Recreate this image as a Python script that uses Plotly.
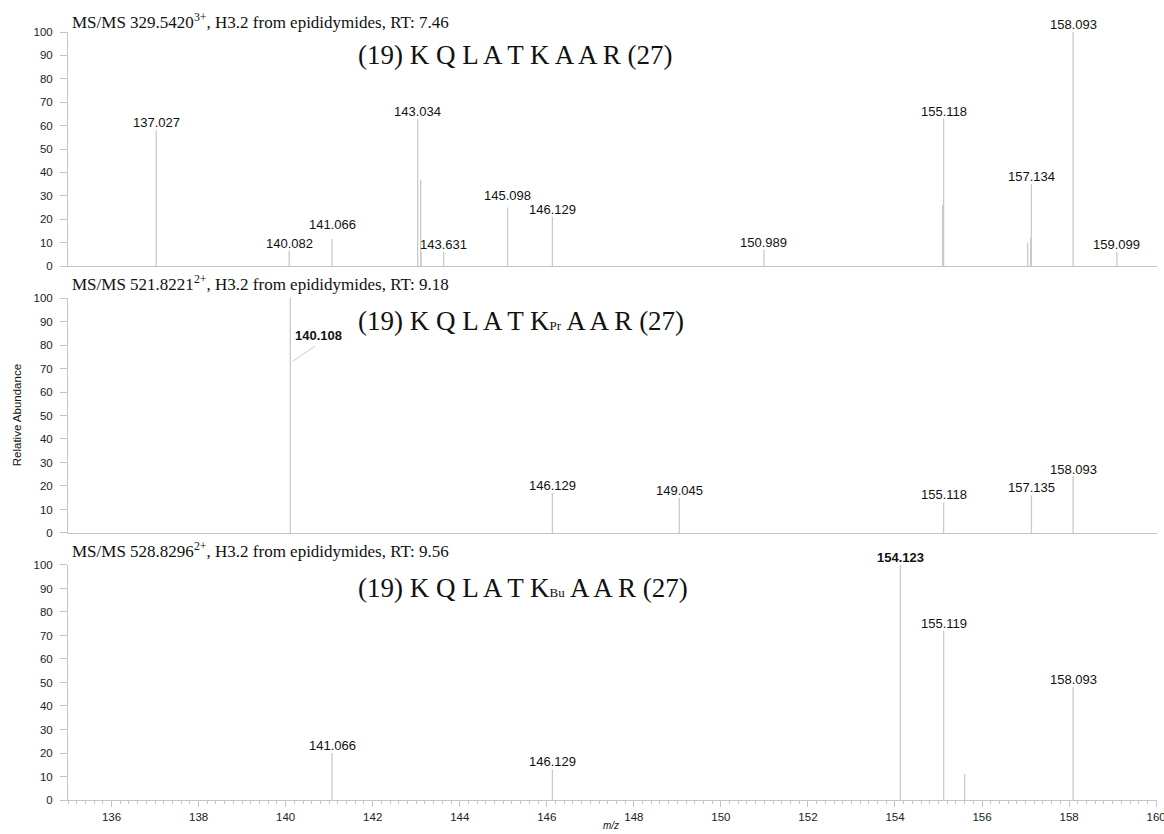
import plotly.graph_objects as go

# ---------------- data ----------------
x_range = [135, 160.02]
x_tick_start = 136
x_tick_step = 2

titles = [
    "MS/MS 329.5420<sup>3+</sup>, H3.2 from epididymides, RT: 7.46",
    "MS/MS 521.8221<sup>2+</sup>, H3.2 from epididymides, RT: 9.18",
    "MS/MS 528.8296<sup>2+</sup>, H3.2 from epididymides, RT: 9.56",
]
mods = ["", "Pr", "Bu"]

p1_mz = [137.027, 140.082, 141.066, 143.034, 143.103, 143.112, 143.631, 145.098,
         146.129, 150.989, 155.095, 155.118, 157.048, 157.117, 157.134, 158.093, 159.099]
p1_int = [58, 6.5, 11.5, 63, 37, 6, 6, 25, 21, 7, 26, 63, 10, 12, 35, 100, 6]
p1_lab = ["137.027", "140.082", "141.066", "143.034", "", "", "143.631", "145.098",
          "146.129", "150.989", "", "155.118", "", "", "157.134", "158.093", "159.099"]

p2_mz = [140.108, 146.129, 149.045, 155.118, 157.135, 158.093]
p2_int = [100, 17, 15, 13, 16, 24]
p2_lab = ["140.108", "146.129", "149.045", "155.118", "157.135", "158.093"]

p3_mz = [141.066, 146.129, 154.123, 155.119, 155.6, 158.093]
p3_int = [20, 13, 100, 72, 11, 48]
p3_lab = ["141.066", "146.129", "154.123", "155.119", "", "158.093"]

panels = [(p1_mz, p1_int, p1_lab), (p2_mz, p2_int, p2_lab), (p3_mz, p3_int, p3_lab)]

# ---------------- styles ----------------
SANS = "Liberation Sans, Arial, sans-serif"
SERIF = "Liberation Serif, Times New Roman, serif"
PEAK = "#cacaca"
AXIS = "#c4c4c4"
TXT = "#111111"

domains = [[0.6953, 1.0], [0.3477, 0.6536], [0.0, 0.306]]
title_shift = [11, 15, 15]
bold_labels = {(2, "154.123")}
extra_shift = {(0, "141.066"): 7, (0, "145.098"): 5}
special_label = (1, "140.108")

fig = go.Figure()
annotations = []
shapes = []

for i, (mz, inten, lab) in enumerate(panels):
    n = i + 1
    xs, ys = [], []
    for m, h in zip(mz, inten):
        xs += [m, m, None]
        ys += [0, h, None]
    xa = "x" if n == 1 else f"x{n}"
    ya = "y" if n == 1 else f"y{n}"
    fig.add_trace(go.Scatter(x=xs, y=ys, mode="lines", xaxis=xa, yaxis=ya,
                             line=dict(color=PEAK, width=1.3), hoverinfo="skip",
                             showlegend=False, cliponaxis=False))
    for m, h, t in zip(mz, inten, lab):
        if not t:
            continue
        if (i, t) == special_label:
            annotations.append(dict(x=m, y=84, xref=xa, yref=ya, text=f"<b>{t}</b>",
                                    showarrow=False, xanchor="left", yanchor="middle",
                                    xshift=3, font=dict(family=SANS, size=13, color=TXT)))
            shapes.append(dict(type="line", xref=xa, yref=ya, x0=m + 0.05, y0=73,
                               x1=m + 0.57, y1=79.5, line=dict(color=PEAK, width=1)))
            continue
        txt = f"<b>{t}</b>" if (i, t) in bold_labels else t
        annotations.append(dict(x=m, y=h, xref=xa, yref=ya, text=txt, showarrow=False,
                                xanchor="center", yanchor="bottom",
                                yshift=-2 + extra_shift.get((i, t), 0),
                                font=dict(family=SANS, size=13, color=TXT)))
    # panel title
    annotations.append(dict(x=0.002, y=1, xref="paper", yref=f"{ya} domain",
                            text=titles[i], showarrow=False, xanchor="left",
                            yanchor="middle", yshift=title_shift[i],
                            font=dict(family=SERIF, size=17, color=TXT)))
    # peptide sequence
    mod = f'<span style="font-size:13px">{mods[i]}</span>' if mods[i] else ""
    pep = f"(19) K Q L A T K{mod} A A R (27)"
    annotations.append(dict(x=0.2645, y=1, xref=f"{xa} domain", yref=f"{ya} domain",
                            text=pep, showarrow=False, xanchor="left", yanchor="middle",
                            yshift=-23, font=dict(family=SERIF, size=27, color=TXT)))

# axis titles
annotations.append(dict(x=-0.0468, y=0.501, xref="paper", yref="paper",
                        text="Relative Abundance", textangle=-90, showarrow=False,
                        xanchor="center", yanchor="middle",
                        font=dict(family=SANS, size=11.5, color=TXT)))
annotations.append(dict(x=0.4986, y=-0.024, xref="paper", yref="paper",
                        text="<i>m/z</i>", showarrow=False, xanchor="center",
                        yanchor="top", font=dict(family=SANS, size=10, color=TXT)))

yax = dict(range=[0, 100], dtick=10, tick0=0, showline=True, linecolor=AXIS,
           linewidth=1, ticks="outside", ticklen=7, tickcolor=AXIS, tickwidth=1,
           tickfont=dict(family=SANS, size=11.5, color="#222"), showgrid=False,
           zeroline=False, ticklabelstandoff=5, automargin=False)

layout = dict(width=1164, height=834, margin=dict(l=68, r=7, t=32, b=34),
              plot_bgcolor="white", paper_bgcolor="white",
              annotations=annotations, shapes=shapes, showlegend=False)

for i in range(3):
    n = i + 1
    xk = "xaxis" if n == 1 else f"xaxis{n}"
    yk = "yaxis" if n == 1 else f"yaxis{n}"
    ya = "y" if n == 1 else f"y{n}"
    xa = "x" if n == 1 else f"x{n}"
    layout[yk] = dict(yax, domain=domains[i], anchor=xa)
    xd = dict(range=x_range, showline=True, linecolor=AXIS, linewidth=1,
              showgrid=False, zeroline=False, anchor=ya, domain=[0, 1],
              automargin=False)
    if n < 3:
        xd.update(showticklabels=False, ticks="", matches="x3")
    else:
        xd.update(ticks="outside", tick0=x_tick_start, dtick=x_tick_step, ticklen=6,
                  tickcolor=AXIS, tickfont=dict(family=SANS, size=11.5, color="#222"),
                  ticklabeloverflow="allow",
                  minor=dict(dtick=0.2, tick0=x_tick_start, ticks="outside", ticklen=3,
                             tickcolor=AXIS, showgrid=False))
    layout[xk] = xd

fig.update_layout(**layout)
fig.write_html(
    "out.html",
    config={"displayModeBar": False},
    post_script="document.body.style.margin='0px';document.body.style.overflow='hidden';",
)
